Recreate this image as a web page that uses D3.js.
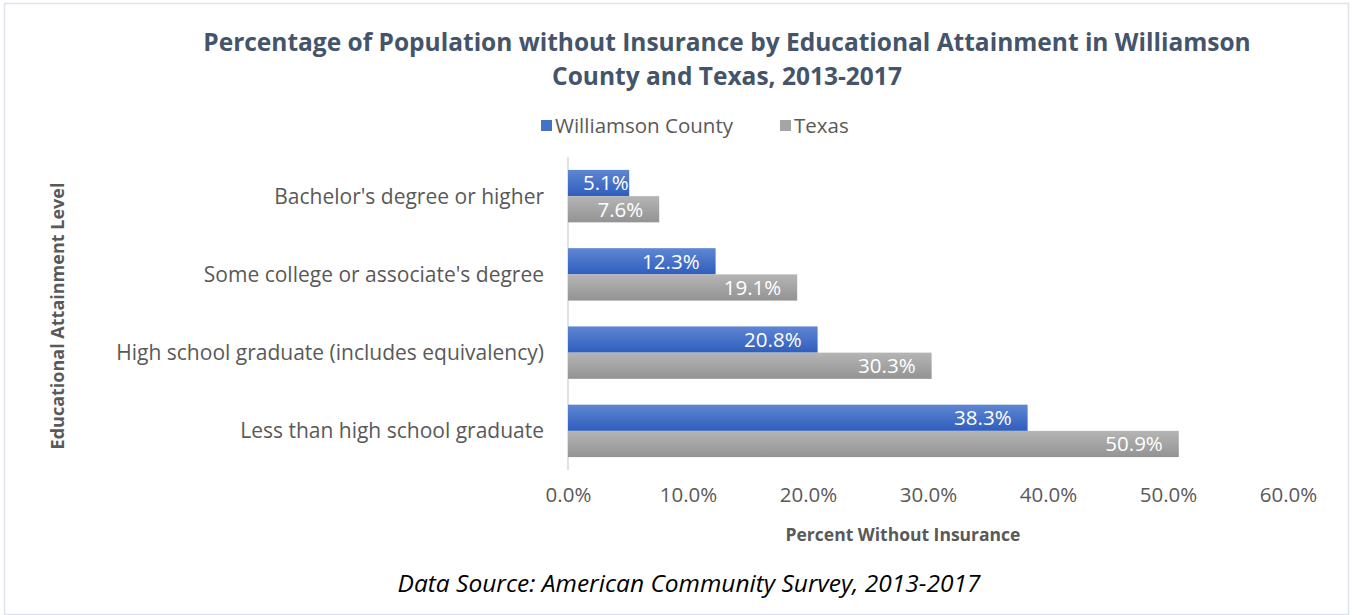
<!DOCTYPE html>
<html>
<head>
<meta charset="utf-8">
<script src="https://cdn.jsdelivr.net/npm/d3@7"></script>
<style>
  body { margin: 0; background: #fff; }
  svg { display: block; font-family: "Open Sans", sans-serif; }
</style>
</head>
<body>
<div id="chart"></div>
<script>
var categories = ["Bachelor's degree or higher", "Some college or associate's degree",
    "High school graduate (includes equivalency)", "Less than high school graduate"];
var seriesNames = ["Williamson County", "Texas"];
var williamson = [5.1, 12.3, 20.8, 38.3];
var texas = [7.6, 19.1, 30.3, 50.9];
var xTicks = [0, 10, 20, 30, 40, 50, 60];

var width = 1353, height = 615;
var svg = d3.select("#chart").append("svg")
    .attr("width", width)
    .attr("height", height);

// gradients like the office chart fill
var defs = svg.append("defs");
function grad(id, top, bottom) {
    var g = defs.append("linearGradient").attr("id", id)
        .attr("x1", 0).attr("y1", 0).attr("x2", 0).attr("y2", 1);
    g.append("stop").attr("offset", "0%").attr("stop-color", top);
    g.append("stop").attr("offset", "100%").attr("stop-color", bottom);
}
grad("gBlue", "#5f86d3", "#2e5ebd");
grad("gGray", "#b5b5b5", "#939393");
var fills = ["url(#gBlue)", "url(#gGray)"];
var swatch = ["#4472c4", "#a5a5a5"];

// frame
svg.append("rect")
    .attr("x", 4.5).attr("y", 3.5)
    .attr("width", width - 9).attr("height", height - 4)
    .attr("fill", "none").attr("stroke", "#dde2ea").attr("stroke-width", 1.5);

var x = d3.scaleLinear().domain([0, 60]).range([568, 1288]);
var y0 = d3.scaleBand().domain(categories).range([157, 470]).paddingInner(0.33).paddingOuter(0.165);
var y1 = d3.scaleBand().domain(seriesNames).range([0, y0.bandwidth()]);

// title
var title = svg.append("text")
    .attr("text-anchor", "middle")
    .attr("fill", "#44546a")
    .style("font-weight", "bold")
    .style("font-size", "24.5px");
title.append("tspan").attr("x", 727).attr("y", 51)
    .text("Percentage of Population without Insurance by Educational Attainment in Williamson");
title.append("tspan").attr("x", 727).attr("y", 85)
    .text("County and Texas, 2013-2017");

// legend
var legendItems = [{name: seriesNames[0], x: 541}, {name: seriesNames[1], x: 780}];
var lg = svg.append("g").selectAll("g").data(legendItems).enter().append("g");
lg.append("rect")
    .attr("x", function(d) { return d.x; })
    .attr("y", 120)
    .attr("width", 11).attr("height", 11)
    .attr("fill", function(d, i) { return swatch[i]; });
lg.append("text")
    .attr("x", function(d) { return d.x + 14; })
    .attr("y", 133)
    .attr("fill", "#595959")
    .style("font-size", "20.5px")
    .text(function(d) { return d.name; });

// axis line
svg.append("line")
    .attr("x1", x(0)).attr("x2", x(0))
    .attr("y1", 157).attr("y2", 470)
    .attr("stroke", "#d9d9d9").attr("stroke-width", 1.5);

// bars
var rows = categories.map(function(c, i) {
    return {cat: c, vals: [williamson[i], texas[i]]};
});
var groups = svg.append("g").selectAll("g").data(rows).enter().append("g")
    .attr("transform", function(d) { return "translate(0," + y0(d.cat) + ")"; });

groups.selectAll("rect").data(function(d) { return d.vals; }).enter().append("rect")
    .attr("x", x(0))
    .attr("y", function(d, i) { return y1(seriesNames[i]); })
    .attr("width", function(d) { return x(d) - x(0); })
    .attr("height", y1.bandwidth())
    .attr("fill", function(d, i) { return fills[i]; });

groups.selectAll("text.val").data(function(d) { return d.vals; }).enter().append("text")
    .attr("class", "val")
    .attr("y", function(d, i) { return y1(seriesNames[i]) + y1.bandwidth() / 2; })
    .attr("dy", "0.36em")
    .attr("text-anchor", "end")
    .attr("fill", "#fff")
    .style("font-size", "20.5px")
    .text(function(d) { return d.toFixed(1) + "%"; })
    .attr("x", function(d) {
        // short bars: push the label right so it stays inside, like Excel does
        var len = this.getComputedTextLength();
        return Math.min(x(d), Math.max(x(d) - 16, x(0) + 15 + len));
    });

// category labels
svg.append("g").selectAll("text").data(categories).enter().append("text")
    .attr("x", 544)
    .attr("y", function(d) { return y0(d) + y0.bandwidth() / 2; })
    .attr("dy", "0.36em")
    .attr("text-anchor", "end")
    .attr("fill", "#595959")
    .style("font-size", "21px")
    .text(function(d) { return d; });

// x axis tick labels
var xAxis = d3.axisBottom(x).tickValues(xTicks).tickSize(0).tickPadding(0)
    .tickFormat(function(d) { return d.toFixed(1) + "%"; });
var ax = svg.append("g").attr("transform", "translate(0,487)").call(xAxis);
ax.select(".domain").remove();
ax.selectAll("text")
    .attr("fill", "#595959")
    .style("font-family", "'Open Sans', sans-serif")
    .style("font-size", "20.5px");

// axis titles
svg.append("text")
    .attr("x", 903).attr("y", 541)
    .attr("text-anchor", "middle")
    .attr("fill", "#595959")
    .style("font-weight", "bold")
    .style("font-size", "17.5px")
    .text("Percent Without Insurance");

svg.append("text")
    .attr("transform", "translate(64,316) rotate(-90)")
    .attr("text-anchor", "middle")
    .attr("fill", "#595959")
    .style("font-weight", "bold")
    .style("font-size", "18px")
    .text("Educational Attainment Level");

// source note
svg.append("text")
    .attr("x", 689).attr("y", 592)
    .attr("text-anchor", "middle")
    .attr("fill", "#000")
    .style("font-style", "italic")
    .style("font-size", "24.5px")
    .text("Data Source: American Community Survey, 2013-2017");
</script>
</body>
</html>
